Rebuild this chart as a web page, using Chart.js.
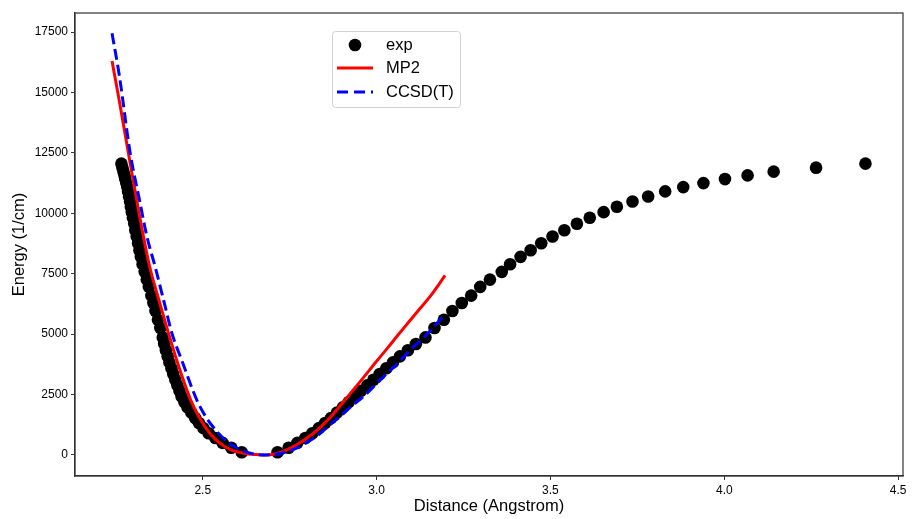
<!DOCTYPE html>
<html>
<head>
<meta charset="utf-8">
<script src="https://cdn.jsdelivr.net/npm/chart.js@4.4.1/dist/chart.umd.min.js"></script>
<style>
  html, body { margin: 0; padding: 0; background: #fff; }
  #wrap { width: 914px; height: 519px; }
</style>
</head>
<body>
<div id="wrap"><canvas id="grafico" width="914" height="519"></canvas></div>
<script>
// ---- data ----
// experimental turning points: level energy, inner and outer distance
const expE = [110, 300, 500, 700, 900, 1110, 1320, 1530, 1750, 1970, 2190, 2420, 2650, 2880,
  3110, 3350, 3590, 3830, 4080, 4330, 4590, 4864, 5254, 5598, 5959, 6291, 6594, 6955, 7257,
  7577, 7892, 8199, 8472, 8763, 9040, 9302, 9567, 9816, 10048, 10272, 10492, 10699, 10907,
  11085, 11251, 11417, 11570, 11724, 11889, 12056];
const expInner = [2.612, 2.582, 2.557, 2.536, 2.517, 2.502, 2.489, 2.478, 2.467, 2.456, 2.447,
  2.439, 2.433, 2.427, 2.421, 2.415, 2.410, 2.404, 2.399, 2.394, 2.389, 2.385, 2.378, 2.371,
  2.364, 2.358, 2.352, 2.345, 2.339, 2.333, 2.327, 2.322, 2.318, 2.314, 2.310, 2.306, 2.303,
  2.299, 2.296, 2.293, 2.291, 2.288, 2.285, 2.283, 2.280, 2.277, 2.275, 2.272, 2.269, 2.266];
const expOuter = [2.715, 2.747, 2.772, 2.795, 2.815, 2.834, 2.852, 2.869, 2.886, 2.903, 2.920,
  2.937, 2.955, 2.973, 2.991, 3.009, 3.028, 3.047, 3.067, 3.090, 3.113, 3.1405, 3.1665, 3.1935,
  3.218, 3.245, 3.272, 3.298, 3.326, 3.360, 3.384, 3.414, 3.443, 3.4735, 3.506, 3.540, 3.576,
  3.613, 3.653, 3.691, 3.736, 3.781, 3.830, 3.882, 3.940, 4.002, 4.067, 4.142, 4.264, 4.406];

// MP2 curve
const mp2R = [2.239, 2.26, 2.28, 2.30, 2.32, 2.347, 2.37, 2.40, 2.43, 2.465, 2.49, 2.52, 2.55,
  2.58, 2.617, 2.65, 2.679, 2.71, 2.74, 2.77, 2.80, 2.83, 2.866, 2.90, 2.93, 2.962, 3.00, 3.03,
  3.058, 3.09, 3.12, 3.154, 3.197];
const mp2E = [16300, 14650, 13000, 11350, 9750, 7809, 6600, 5100, 3700, 2281, 1550, 900, 480,
  220, 70, 15, 0, 50, 200, 420, 700, 1040, 1540, 2120, 2640, 3200, 3880, 4400, 4900, 5460,
  5980, 6560, 7430];

// CCSD(T) curve
const ccR = [2.239, 2.26, 2.291, 2.3176, 2.34, 2.3627, 2.39, 2.411, 2.44, 2.4827, 2.51, 2.545,
  2.58, 2.62, 2.6745, 2.70, 2.73, 2.76, 2.80, 2.83, 2.866, 2.90, 2.93, 2.962, 3.00, 3.03, 3.058,
  3.09, 3.135, 3.16, 3.1925];
const ccE = [17450, 15700, 12512, 10575, 9000, 7809, 6250, 5047, 3900, 2281, 1550, 900, 440,
  150, 0, 20, 80, 220, 520, 800, 1244, 1650, 2050, 2418, 2950, 3380, 3750, 4250, 4850, 5230,
  5764];

const xTicks = [2.5, 3.0, 3.5, 4.0, 4.5];
const yTicks = [0, 2500, 5000, 7500, 10000, 12500, 15000, 17500];

const fonte = "'Liberation Sans', Arial, sans-serif";

const expPontos = [];
expE.forEach((e, i) => {
  expPontos.push({ x: expInner[i], y: e });
  expPontos.push({ x: expOuter[i], y: e });
});
const mp2Pontos = mp2R.map((r, i) => ({ x: r, y: mp2E[i] }));
const ccPontos = ccR.map((r, i) => ({ x: r, y: ccE[i] }));

// frame + legend drawn inside the axes, matplotlib style
const molduraLegenda = {
  id: 'molduraLegenda',
  afterDatasetsDraw(chart) {
    const { ctx, chartArea: a } = chart;
    ctx.save();
    ctx.strokeStyle = '#333';
    ctx.lineWidth = 1.2;
    ctx.strokeRect(a.left, a.top, a.right - a.left, a.bottom - a.top);

    const bx = 332, by = 31, bw = 128, bh = 76;
    ctx.beginPath();
    ctx.roundRect(bx + 0.5, by + 0.5, bw, bh, 3);
    ctx.fillStyle = 'rgba(255,255,255,0.85)';
    ctx.fill();
    ctx.strokeStyle = '#d0d0d0';
    ctx.lineWidth = 1;
    ctx.stroke();

    ctx.font = '16.5px ' + fonte;
    ctx.fillStyle = '#000';
    ctx.textBaseline = 'middle';

    ctx.beginPath();
    ctx.arc(355, 45, 6.3, 0, Math.PI * 2);
    ctx.fill();
    ctx.fillText('exp', 386, 45);

    ctx.lineWidth = 3;
    ctx.strokeStyle = '#ff0000';
    ctx.beginPath(); ctx.moveTo(337, 68); ctx.lineTo(373, 68); ctx.stroke();
    ctx.fillText('MP2', 386, 68);

    ctx.strokeStyle = '#0000ff';
    ctx.setLineDash([11, 6]);
    ctx.beginPath(); ctx.moveTo(337, 92); ctx.lineTo(373, 92); ctx.stroke();
    ctx.setLineDash([]);
    ctx.fillText('CCSD(T)', 386, 92);
    ctx.restore();
  }
};

new Chart(document.getElementById('grafico'), {
  type: 'scatter',
  data: {
    datasets: [
      {
        label: 'exp',
        data: expPontos,
        backgroundColor: '#000',
        borderColor: '#000',
        pointRadius: 6.3,
        pointHoverRadius: 6.3,
        borderWidth: 0,
        order: 3
      },
      {
        label: 'MP2',
        data: mp2Pontos,
        showLine: true,
        borderColor: '#ff0000',
        borderWidth: 3,
        pointRadius: 0,
        cubicInterpolationMode: 'monotone',
        order: 2
      },
      {
        label: 'CCSD(T)',
        data: ccPontos,
        showLine: true,
        borderColor: '#0000ff',
        borderWidth: 3,
        borderDash: [11, 5],
        pointRadius: 0,
        cubicInterpolationMode: 'monotone',
        order: 1
      }
    ]
  },
  options: {
    responsive: false,
    animation: false,
    devicePixelRatio: 1,
    layout: { padding: { left: 0, right: 11, top: 13, bottom: 0 } },
    plugins: { legend: { display: false }, tooltip: { enabled: false } },
    scales: {
      x: {
        type: 'linear',
        min: 2.1325,
        max: 4.514,
        afterFit: s => { s.height = 43; },
        afterBuildTicks: s => { s.ticks = xTicks.map(v => ({ value: v })); },
        grid: { drawOnChartArea: false, tickLength: 4, tickColor: '#333' },
        border: { display: true, color: '#333', width: 1.2 },
        ticks: {
          color: '#000',
          padding: 3,
          maxRotation: 0,
          font: { family: fonte, size: 12 },
          callback: v => v.toFixed(1)
        },
        title: {
          display: true,
          text: 'Distance (Angstrom)',
          color: '#000',
          font: { family: fonte, size: 16.5 },
          padding: { top: 0, bottom: 3 }
        }
      },
      y: {
        type: 'linear',
        min: -871,
        max: 18290,
        afterFit: s => { s.width = 75; },
        afterBuildTicks: s => { s.ticks = yTicks.map(v => ({ value: v })); },
        grid: { drawOnChartArea: false, tickLength: 4, tickColor: '#333' },
        border: { display: true, color: '#333', width: 1.2 },
        ticks: {
          color: '#000',
          padding: 3,
          font: { family: fonte, size: 12 },
          callback: v => String(v)
        },
        title: {
          display: true,
          text: 'Energy (1/cm)',
          color: '#000',
          font: { family: fonte, size: 16.5 },
          padding: { top: 10, bottom: 0 }
        }
      }
    }
  },
  plugins: [molduraLegenda]
});
</script>
</body>
</html>
